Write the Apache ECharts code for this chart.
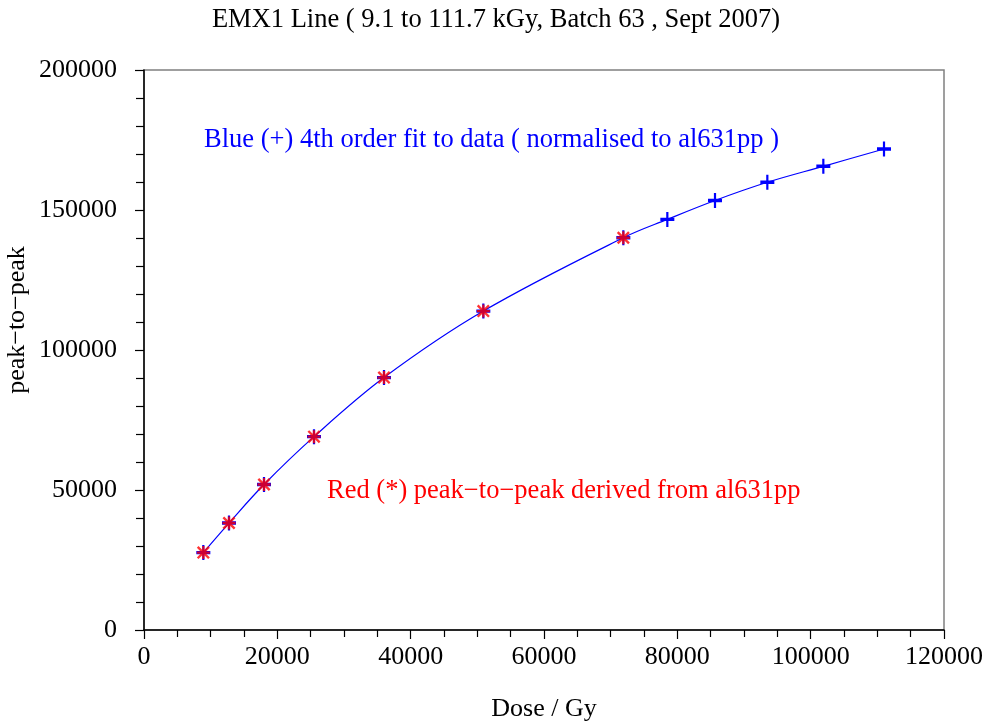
<!DOCTYPE html>
<html><head><meta charset="utf-8">
<script src="https://cdn.jsdelivr.net/npm/echarts@6/dist/echarts.min.js"></script>
<style>html,body{margin:0;padding:0;background:#fff}#c{width:992px;height:727px}</style>
</head><body><div id="c"></div>
<script>
var doses = [8900, 12750, 18000, 25500, 36000, 50900, 71900, 78500, 85650, 93500, 101900, 111000];
var fitValues = [27650, 38200, 51950, 69050, 90150, 113900, 140100, 146650, 153400, 159900, 165600, 171800];
var redDoses = [8900, 12750, 18000, 25500, 36000, 50900, 71900];
var redValues = [27650, 38200, 51950, 69050, 90150, 113900, 140100];
var xTicks = [0, 20000, 40000, 60000, 80000, 100000, 120000];
var yTicks = [0, 50000, 100000, 150000, 200000];

var plusPath = 'path://M0,5.8h14v3.4h-14z M5.9,0h2.2v15h-2.2z';
var starPath = 'path://M0,4.1h10v1.8h-10z M4.1,0h1.8v10h-1.8z M0,1.3L1.3,0L10,8.7L8.7,10Z M8.7,0L10,1.3L1.3,10L0,8.7Z';
var font = '"Liberation Serif", "Times New Roman", serif';

var chart = echarts.init(document.getElementById('c'), null, {renderer: 'canvas'});
chart.setOption({
  animation: false,
  backgroundColor: '#fff',
  title: {
    text: 'EMX1 Line ( 9.1 to 111.7 kGy, Batch 63 , Sept 2007)',
    left: 'center', top: 2,
    textStyle: {fontFamily: font, fontSize: 26.5, fontWeight: 'normal', color: '#000'}
  },
  grid: {left: 144, top: 70, width: 800, height: 562, show: true, borderColor: '#808080', borderWidth: 1.5},
  xAxis: {
    type: 'value', min: 0, max: 120000, interval: 20000,
    name: 'Dose / Gy', nameLocation: 'middle', nameGap: 66,
    nameTextStyle: {fontFamily: font, fontSize: 26, color: '#000', verticalAlign: 'top'},
    axisLine: {show: true, onZero: false, lineStyle: {color: '#000', width: 1.5}},
    axisTick: {show: true, inside: false, length: 9, lineStyle: {color: '#000', width: 1.2}},
    minorTick: {show: true, splitNumber: 4, length: 7, lineStyle: {color: '#000', width: 1.2}},
    splitLine: {show: false},
    axisLabel: {fontFamily: font, fontSize: 26, color: '#000', margin: 14,
      formatter: function (v) { return xTicks.indexOf(v) >= 0 ? String(v) : ''; }}
  },
  yAxis: {
    type: 'value', min: 0, max: 200000, interval: 50000,
    axisLine: {show: true, onZero: false, lineStyle: {color: '#000', width: 1.5}},
    axisTick: {show: true, inside: false, length: 9, lineStyle: {color: '#000', width: 1.2}},
    minorTick: {show: true, splitNumber: 5, length: 8, lineStyle: {color: '#000', width: 1.2}},
    splitLine: {show: false},
    axisLabel: {fontFamily: font, fontSize: 26, color: '#000', margin: 27,
      formatter: function (v) { return yTicks.indexOf(v) >= 0 ? String(v) : ''; }}
  },
  series: [
    {
      type: 'line', name: 'fit', smooth: 0.35,
      data: doses.map(function (d, i) { return [d, fitValues[i]]; }),
      lineStyle: {color: '#0000ff', width: 1.2},
      symbol: plusPath, symbolSize: [14, 15], showSymbol: true,
      itemStyle: {color: '#0000ff'}, z: 2
    },
    {
      type: 'scatter', name: 'red',
      data: redDoses.map(function (d, i) { return [d, redValues[i]]; }),
      symbol: starPath, symbolSize: 13,
      itemStyle: {color: '#ff0000'}, z: 3
    }
  ],
  graphic: [
    {type: 'text', left: 204, top: 127, style: {text: 'Blue (+) 4th order fit to data ( normalised to al631pp )', fill: '#0000ff', font: '26.5px ' + font}},
    {type: 'text', left: 327, top: 478, style: {text: 'Red (*) peak\u2212to\u2212peak derived from al631pp', fill: '#ff0000', font: '26.5px ' + font}},
    {type: 'text', x: 17, y: 320, rotation: Math.PI / 2, style: {text: 'peak\u2212to\u2212peak', fill: '#000', font: '26px ' + font, align: 'center', verticalAlign: 'middle'}}
  ]
});
</script></body></html>
